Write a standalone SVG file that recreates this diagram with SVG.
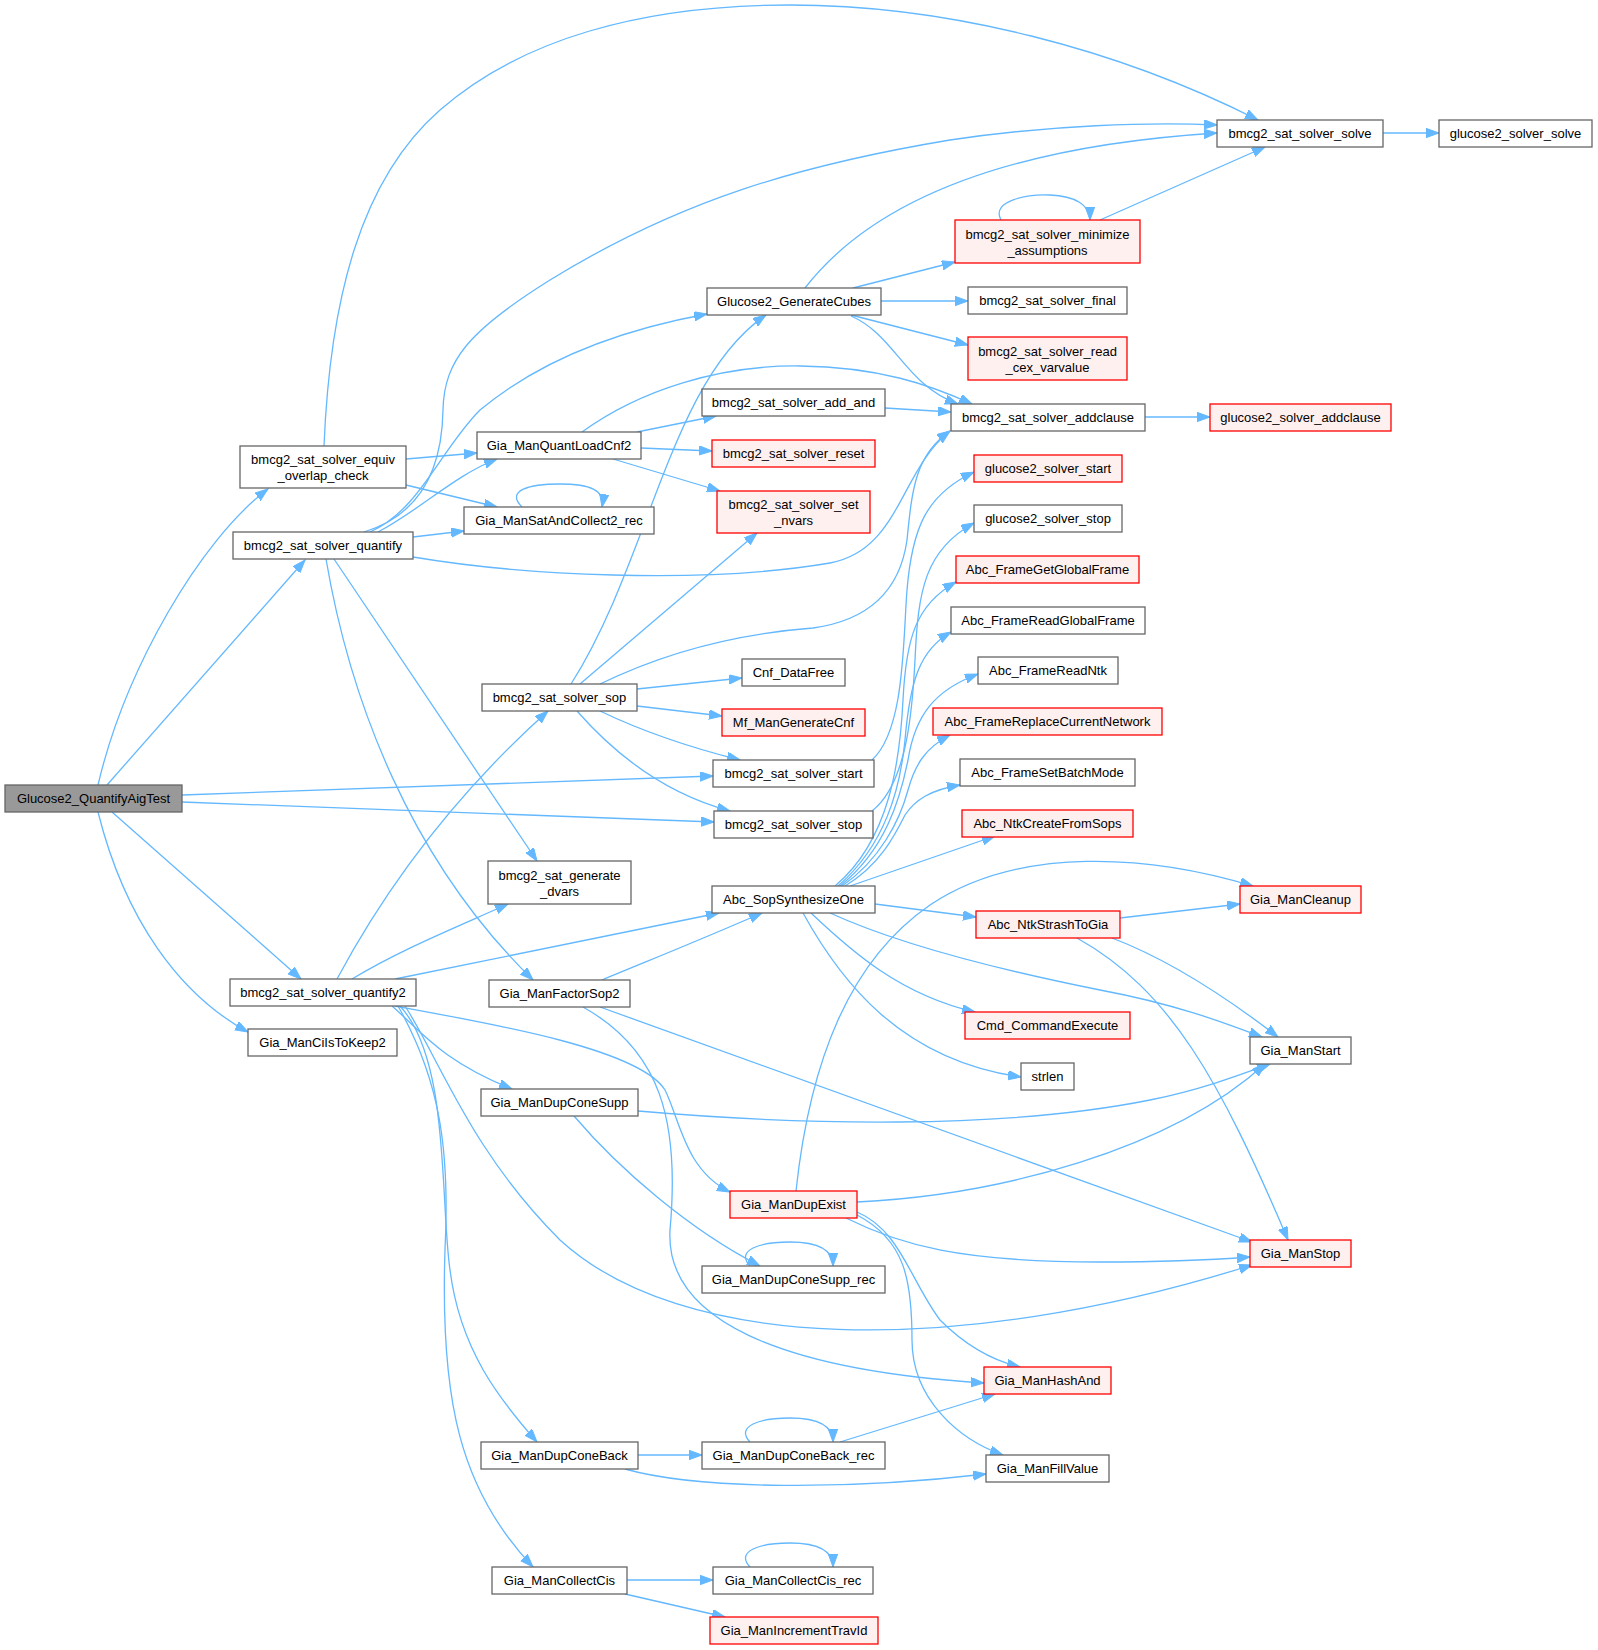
<svg xmlns="http://www.w3.org/2000/svg" width="1598" height="1650" viewBox="0 0 1598 1650">
<style>
rect{stroke-width:1.3}
.n rect{fill:#ffffff;stroke:#666666}
.r rect{fill:#fff0f0;stroke:#ff0000}
.root rect{fill:#999999;stroke:#666666}
text{font-family:"Liberation Sans",Arial,Helvetica,sans-serif;font-size:13px;fill:#000000;text-anchor:middle}
#edges path{fill:none;stroke:#63b8ff;stroke-width:1.3;marker-end:url(#ah)}
</style>
<defs>
<marker id="ah" markerUnits="userSpaceOnUse" markerWidth="14" markerHeight="10" refX="13" refY="4.7" orient="auto" viewBox="0 0 14 10">
<path d="M0,0 L13,4.7 L0,9.4 z" fill="#63b8ff" stroke="#63b8ff" stroke-width="1"/>
</marker>
</defs>
<rect x="0" y="0" width="1598" height="1650" fill="#ffffff"/>
<g id="edges">
<path d="M98,785 C125,670 200,540 268,489"/>
<path d="M107,785 L305,560"/>
<path d="M182,795 L713,776"/>
<path d="M182,802 L714,822"/>
<path d="M112,812 L301,979"/>
<path d="M98,812 C125,920 180,995 248,1032"/>
<path d="M324,446 C330,300 360,180 440,110 C520,40 640,5 790,5 C950,5 1120,50 1258,120"/>
<path d="M406,459 L477,453"/>
<path d="M406,485 L497,507"/>
<path d="M364,532 C420,515 442,470 443,410 C444,360 470,330 550,280 C680,200 800,165 950,140 C1050,125 1150,122 1217,125"/>
<path d="M370,532 C420,510 440,450 480,410 C540,360 620,330 707,314"/>
<path d="M378,532 C420,510 455,475 497,459"/>
<path d="M413,537 L464,531"/>
<path d="M413,557 C520,575 700,585 830,563 C900,550 900,470 950,431"/>
<path d="M334,559 L537,861"/>
<path d="M326,559 C350,700 410,860 533,980"/>
<path d="M582,432 C640,390 720,365 800,366 C880,367 930,385 972,404"/>
<path d="M637,432 L716,416"/>
<path d="M641,448 L712,451"/>
<path d="M613,459 L720,491"/>
<path d="M805,288 C850,230 950,150 1217,133"/>
<path d="M853,288 L955,262"/>
<path d="M881,301 L968,301"/>
<path d="M851,315 L968,345"/>
<path d="M851,316 C895,335 905,385 958,404"/>
<path d="M1001,220 C990,200 1030,194 1050,195 C1075,196 1090,205 1090,220"/>
<path d="M1100,220 L1265,147"/>
<path d="M1383,133 L1439,133"/>
<path d="M1145,417 L1210,417"/>
<path d="M885,408 L951,412"/>
<path d="M522,507 C505,490 530,484 560,484 C590,484 605,490 602,507"/>
<path d="M571,684 C650,560 670,380 766,315"/>
<path d="M580,684 L757,533"/>
<path d="M600,684 C680,645 760,632 813,628 C870,620 900,590 907,540 C912,490 915,455 950,431"/>
<path d="M637,689 L742,678"/>
<path d="M637,706 L722,716"/>
<path d="M600,711 C650,735 700,750 740,760"/>
<path d="M577,711 C620,760 670,795 730,811"/>
<path d="M872,760 C905,730 903,640 907,590 C912,530 925,495 974,472"/>
<path d="M872,811 C905,785 912,720 915,660 C918,590 925,550 974,523"/>
<path d="M835,886 C890,840 900,760 903,700 C906,640 915,605 956,582"/>
<path d="M838,886 C885,845 900,790 905,740 C910,680 920,650 951,632"/>
<path d="M840,886 C885,850 900,800 908,760 C915,715 935,690 978,674"/>
<path d="M842,886 C880,860 900,820 908,790 C915,765 925,748 950,735"/>
<path d="M845,886 C880,865 895,835 905,815 C915,800 930,790 960,785"/>
<path d="M850,886 L995,836"/>
<path d="M875,904 L976,917"/>
<path d="M830,913 C900,945 1000,970 1100,990 C1180,1005 1230,1025 1262,1037"/>
<path d="M811,913 C850,950 900,995 975,1012"/>
<path d="M803,913 C840,980 900,1060 1021,1077"/>
<path d="M796,1191 C810,1060 850,960 930,905 C1020,845 1150,855 1253,886"/>
<path d="M1120,918 L1240,904"/>
<path d="M1112,938 C1170,960 1230,1000 1278,1037"/>
<path d="M1077,938 C1170,990 1220,1080 1288,1240"/>
<path d="M857,1202 C1000,1195 1170,1150 1265,1064"/>
<path d="M638,1111 C800,1125 1000,1130 1150,1100 C1200,1090 1240,1075 1270,1064"/>
<path d="M600,1007 L1252,1242"/>
<path d="M602,980 C650,960 700,940 762,913"/>
<path d="M583,1007 C660,1050 680,1120 670,1230 C665,1320 780,1370 984,1383"/>
<path d="M337,979 C390,880 460,790 548,711"/>
<path d="M352,979 C400,950 450,930 508,904"/>
<path d="M395,979 L719,913"/>
<path d="M392,1006 C420,1030 440,1060 512,1089"/>
<path d="M395,1006 C500,1025 640,1050 665,1090 C680,1120 685,1170 730,1192"/>
<path d="M405,1006 C440,1060 470,1150 560,1240 C680,1350 950,1360 1252,1265"/>
<path d="M400,1006 C450,1060 440,1200 450,1270 C460,1350 500,1400 537,1442"/>
<path d="M398,1006 C440,1080 450,1150 445,1250 C440,1400 460,1490 533,1567"/>
<path d="M846,1218 C900,1245 960,1262 1100,1262 C1160,1262 1210,1260 1250,1257"/>
<path d="M857,1212 C900,1230 910,1280 940,1320 C965,1345 990,1360 1020,1367"/>
<path d="M857,1215 C905,1240 912,1280 912,1340 C912,1400 960,1440 1003,1455"/>
<path d="M574,1116 C620,1170 690,1230 760,1266"/>
<path d="M750,1266 C735,1250 760,1242 790,1242 C815,1242 833,1248 833,1266"/>
<path d="M638,1455 L702,1455"/>
<path d="M625,1469 C700,1490 850,1490 986,1474"/>
<path d="M750,1442 C735,1426 760,1418 790,1418 C815,1418 833,1424 833,1442"/>
<path d="M840,1442 L995,1394"/>
<path d="M627,1580 L713,1580"/>
<path d="M625,1594 L725,1617"/>
<path d="M750,1567 C735,1551 760,1543 790,1543 C815,1543 833,1549 833,1567"/>
</g>
<g id="n1" class="root"><rect x="5" y="785" width="177" height="27"/><text x="93.5" y="803">Glucose2_QuantifyAigTest</text></g>
<g id="n2" class="n"><rect x="240" y="446" width="166" height="42"/><text x="323" y="464">bmcg2_sat_solver_equiv</text><text x="323" y="480">_overlap_check</text></g>
<g id="n3" class="n"><rect x="233" y="532" width="180" height="27"/><text x="323" y="550">bmcg2_sat_solver_quantify</text></g>
<g id="n4" class="n"><rect x="230" y="979" width="186" height="27"/><text x="323" y="997">bmcg2_sat_solver_quantify2</text></g>
<g id="n5" class="n"><rect x="248" y="1029" width="149" height="27"/><text x="322.5" y="1047">Gia_ManCiIsToKeep2</text></g>
<g id="n6" class="n"><rect x="477" y="432" width="164" height="27"/><text x="559" y="450">Gia_ManQuantLoadCnf2</text></g>
<g id="n7" class="n"><rect x="464" y="507" width="190" height="27"/><text x="559" y="525">Gia_ManSatAndCollect2_rec</text></g>
<g id="n8" class="n"><rect x="482" y="684" width="155" height="27"/><text x="559.5" y="702">bmcg2_sat_solver_sop</text></g>
<g id="n9" class="n"><rect x="488" y="861" width="143" height="43"/><text x="559.5" y="880">bmcg2_sat_generate</text><text x="559.5" y="896">_dvars</text></g>
<g id="n10" class="n"><rect x="489" y="980" width="141" height="27"/><text x="559.5" y="998">Gia_ManFactorSop2</text></g>
<g id="n11" class="n"><rect x="481" y="1089" width="157" height="27"/><text x="559.5" y="1107">Gia_ManDupConeSupp</text></g>
<g id="n12" class="n"><rect x="481" y="1442" width="157" height="27"/><text x="559.5" y="1460">Gia_ManDupConeBack</text></g>
<g id="n13" class="n"><rect x="492" y="1567" width="135" height="27"/><text x="559.5" y="1585">Gia_ManCollectCis</text></g>
<g id="n14" class="n"><rect x="707" y="288" width="174" height="27"/><text x="794" y="306">Glucose2_GenerateCubes</text></g>
<g id="n15" class="n"><rect x="702" y="389" width="183" height="27"/><text x="793.5" y="407">bmcg2_sat_solver_add_and</text></g>
<g id="n16" class="r"><rect x="712" y="440" width="163" height="27"/><text x="793.5" y="458">bmcg2_sat_solver_reset</text></g>
<g id="n17" class="r"><rect x="717" y="491" width="153" height="42"/><text x="793.5" y="509">bmcg2_sat_solver_set</text><text x="793.5" y="525">_nvars</text></g>
<g id="n18" class="n"><rect x="742" y="659" width="103" height="27"/><text x="793.5" y="677">Cnf_DataFree</text></g>
<g id="n19" class="r"><rect x="722" y="709" width="143" height="27"/><text x="793.5" y="727">Mf_ManGenerateCnf</text></g>
<g id="n20" class="n"><rect x="713" y="760" width="161" height="27"/><text x="793.5" y="778">bmcg2_sat_solver_start</text></g>
<g id="n21" class="n"><rect x="714" y="811" width="159" height="27"/><text x="793.5" y="829">bmcg2_sat_solver_stop</text></g>
<g id="n22" class="n"><rect x="712" y="886" width="163" height="27"/><text x="793.5" y="904">Abc_SopSynthesizeOne</text></g>
<g id="n23" class="r"><rect x="730" y="1191" width="127" height="27"/><text x="793.5" y="1209">Gia_ManDupExist</text></g>
<g id="n24" class="n"><rect x="702" y="1266" width="183" height="27"/><text x="793.5" y="1284">Gia_ManDupConeSupp_rec</text></g>
<g id="n25" class="n"><rect x="702" y="1442" width="183" height="27"/><text x="793.5" y="1460">Gia_ManDupConeBack_rec</text></g>
<g id="n26" class="n"><rect x="713" y="1567" width="160" height="27"/><text x="793" y="1585">Gia_ManCollectCis_rec</text></g>
<g id="n27" class="r"><rect x="710" y="1617" width="168" height="27"/><text x="794" y="1635">Gia_ManIncrementTravId</text></g>
<g id="n28" class="n"><rect x="1217" y="120" width="166" height="27"/><text x="1300" y="138">bmcg2_sat_solver_solve</text></g>
<g id="n29" class="n"><rect x="1439" y="120" width="153" height="27"/><text x="1515.5" y="138">glucose2_solver_solve</text></g>
<g id="n30" class="r"><rect x="955" y="220" width="185" height="43"/><text x="1047.5" y="239">bmcg2_sat_solver_minimize</text><text x="1047.5" y="255">_assumptions</text></g>
<g id="n31" class="n"><rect x="968" y="287" width="159" height="27"/><text x="1047.5" y="305">bmcg2_sat_solver_final</text></g>
<g id="n32" class="r"><rect x="968" y="337" width="159" height="43"/><text x="1047.5" y="356">bmcg2_sat_solver_read</text><text x="1047.5" y="372">_cex_varvalue</text></g>
<g id="n33" class="n"><rect x="951" y="404" width="194" height="27"/><text x="1048" y="422">bmcg2_sat_solver_addclause</text></g>
<g id="n34" class="r"><rect x="1210" y="404" width="181" height="27"/><text x="1300.5" y="422">glucose2_solver_addclause</text></g>
<g id="n35" class="r"><rect x="974" y="455" width="148" height="27"/><text x="1048" y="473">glucose2_solver_start</text></g>
<g id="n36" class="n"><rect x="974" y="505" width="148" height="27"/><text x="1048" y="523">glucose2_solver_stop</text></g>
<g id="n37" class="r"><rect x="956" y="556" width="183" height="27"/><text x="1047.5" y="574">Abc_FrameGetGlobalFrame</text></g>
<g id="n38" class="n"><rect x="951" y="607" width="194" height="27"/><text x="1048" y="625">Abc_FrameReadGlobalFrame</text></g>
<g id="n39" class="n"><rect x="978" y="657" width="140" height="27"/><text x="1048" y="675">Abc_FrameReadNtk</text></g>
<g id="n40" class="r"><rect x="933" y="708" width="229" height="27"/><text x="1047.5" y="726">Abc_FrameReplaceCurrentNetwork</text></g>
<g id="n41" class="n"><rect x="960" y="759" width="175" height="27"/><text x="1047.5" y="777">Abc_FrameSetBatchMode</text></g>
<g id="n42" class="r"><rect x="962" y="810" width="171" height="27"/><text x="1047.5" y="828">Abc_NtkCreateFromSops</text></g>
<g id="n43" class="r"><rect x="1240" y="886" width="121" height="27"/><text x="1300.5" y="904">Gia_ManCleanup</text></g>
<g id="n44" class="r"><rect x="976" y="911" width="144" height="27"/><text x="1048" y="929">Abc_NtkStrashToGia</text></g>
<g id="n45" class="r"><rect x="965" y="1012" width="165" height="27"/><text x="1047.5" y="1030">Cmd_CommandExecute</text></g>
<g id="n46" class="n"><rect x="1250" y="1037" width="101" height="27"/><text x="1300.5" y="1055">Gia_ManStart</text></g>
<g id="n47" class="n"><rect x="1021" y="1063" width="53" height="27"/><text x="1047.5" y="1081">strlen</text></g>
<g id="n48" class="r"><rect x="1250" y="1240" width="101" height="27"/><text x="1300.5" y="1258">Gia_ManStop</text></g>
<g id="n49" class="r"><rect x="984" y="1367" width="127" height="27"/><text x="1047.5" y="1385">Gia_ManHashAnd</text></g>
<g id="n50" class="n"><rect x="986" y="1455" width="123" height="27"/><text x="1047.5" y="1473">Gia_ManFillValue</text></g>
</svg>
